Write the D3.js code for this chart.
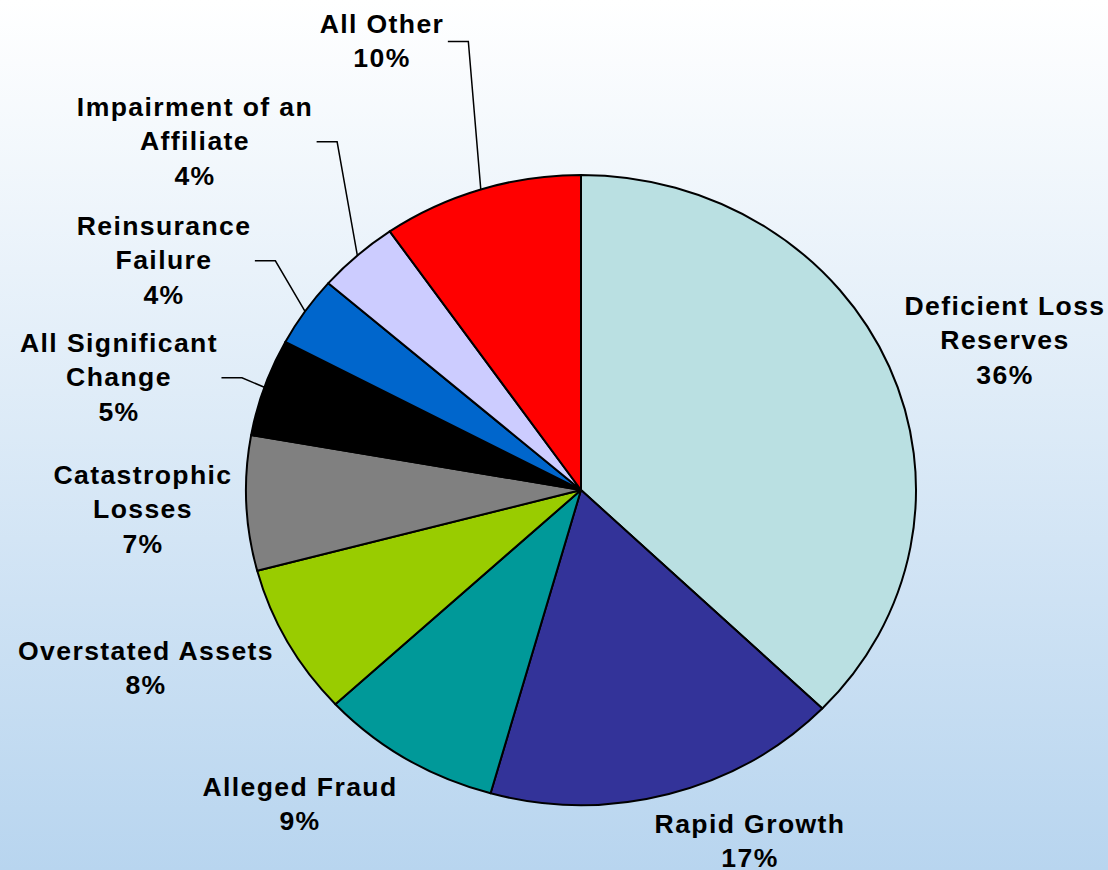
<!DOCTYPE html>
<html>
<head>
<meta charset="utf-8">
<script src="https://cdn.jsdelivr.net/npm/d3@7"></script>
<style>
  html, body { margin: 0; padding: 0; background: #fff; }
  svg { display: block; }
  .lbl { font-family: "Liberation Sans", Arial, sans-serif; font-weight: bold; font-size: 25px; fill: #000; letter-spacing: 1.3px; }
</style>
</head>
<body>
<div id="chart"></div>
<script>
// slices, clockwise from 12 o'clock
var categories = ["Deficient Loss Reserves", "Rapid Growth", "Alleged Fraud", "Overstated Assets",
    "Catastrophic Losses", "All Significant Change", "Reinsurance Failure",
    "Impairment of an Affiliate", "All Other"];

// share of each slice (percent)
var shares = [37.2, 17.15, 8.75, 7.77, 6.92, 5.0, 3.61, 3.93, 9.67];

// percentages as printed on the labels
var pctLabels = ["36%", "17%", "9%", "8%", "7%", "5%", "4%", "4%", "10%"];

// how the label text is broken over lines
var labelLines = [
    ["Deficient Loss", "Reserves"],
    ["Rapid Growth"],
    ["Alleged Fraud"],
    ["Overstated Assets"],
    ["Catastrophic", "Losses"],
    ["All Significant", "Change"],
    ["Reinsurance", "Failure"],
    ["Impairment of an", "Affiliate"],
    ["All Other"]
];

var colors = ["#bae0e2", "#333399", "#009999", "#99cc00", "#808080",
    "#000000", "#0066cc", "#ccccff", "#ff0000"];

// label layout: centre x / first baseline, and whether it gets a leader line
var labelAt = [[1005, 315], [750, 833], [300, 796], [146, 660], [143, 484],
    [119, 352], [164, 235], [195, 116], [382, 33]];
var withLeader = [false, false, false, false, false, true, true, true, true];

var W = 1108, H = 870;
var cx = 581, cy = 490, rx = 335, ry = 315;
var sx = rx / ry;
var lineH = 34.5;

var svg = d3.select('#chart').append('svg')
    .attr('width', W)
    .attr('height', H);

// background gradient
var grad = svg.append('defs').append('linearGradient')
    .attr('id', 'bg')
    .attr('x1', 0).attr('y1', 0).attr('x2', 0).attr('y2', 1);
grad.append('stop').attr('offset', '0%').attr('stop-color', '#ffffff');
grad.append('stop').attr('offset', '100%').attr('stop-color', '#b8d5ef');

svg.append('rect')
    .attr('width', W)
    .attr('height', H)
    .attr('fill', 'url(#bg)');

var data = categories.map(function(c, i) {
    return {name: c, share: shares[i], pct: pctLabels[i], lines: labelLines[i],
        color: colors[i], at: labelAt[i], leader: withLeader[i]};
});

var pie = d3.pie()
    .sort(null)
    .value(function(d) { return d.share; });
var arcs = pie(data);

var arc = d3.arc()
    .innerRadius(0)
    .outerRadius(ry);

// pie is slightly wider than tall in the picture
var pieG = svg.append('g')
    .attr('transform', 'translate(' + cx + ',' + cy + ') scale(' + sx + ',1)');

pieG.selectAll('path')
    .data(arcs)
    .join('path')
    .attr('d', arc)
    .attr('fill', function(d) { return d.data.color; })
    .attr('stroke', '#000')
    .attr('stroke-width', 2)
    .attr('stroke-linejoin', 'round')
    .attr('vector-effect', 'non-scaling-stroke');

// labels
var labels = svg.selectAll('g.label')
    .data(arcs)
    .join('g')
    .attr('class', 'label')
    .attr('transform', function(d) {
        return 'translate(' + d.data.at[0] + ',' + d.data.at[1] + ') scale(' + sx + ',1)';
    });

labels.each(function(d) {
    var t = d3.select(this).append('text')
        .attr('class', 'lbl')
        .attr('text-anchor', 'middle');
    d.data.lines.concat([d.data.pct]).forEach(function(s, i) {
        t.append('tspan')
            .attr('x', 0)
            .attr('y', i * lineH)
            .text(s);
    });
});

// leader lines: rim at mid angle -> elbow -> beside label
var leaderLine = d3.line();
labels.filter(function(d) { return d.data.leader; }).each(function(d) {
    var bb = this.querySelector('text').getBBox();
    var right = d.data.at[0] + (bb.x + bb.width) * sx;
    var midY = d.data.at[1] + bb.y + bb.height / 2;
    var a = (d.startAngle + d.endAngle) / 2;
    var rim = [cx + rx * Math.sin(a), cy - ry * Math.cos(a)];
    svg.append('path')
        .attr('d', leaderLine([rim, [right + 24, midY], [right + 3.5, midY]]))
        .attr('fill', 'none')
        .attr('stroke', '#000')
        .attr('stroke-width', 1.5);
});
</script>
</body>
</html>
